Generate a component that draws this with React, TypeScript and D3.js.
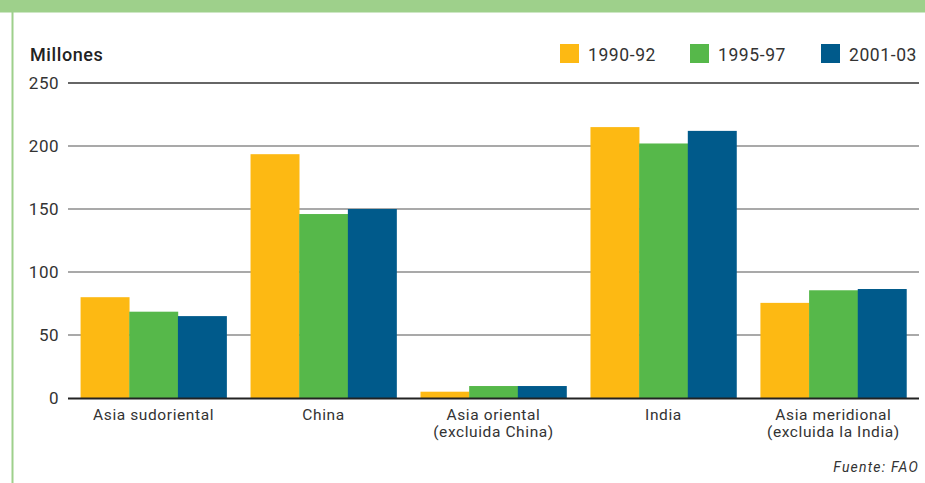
import { useEffect, useRef } from "react";
import * as d3 from "d3";

const regions = [
  ["Asia sudoriental"],
  ["China"],
  ["Asia oriental", "(excluida China)"],
  ["India"],
  ["Asia meridional", "(excluida la India)"],
];
const periods = ["1990-92", "1995-97", "2001-03"];
const s1990 = [80, 193.5, 5, 215, 75.5];
const s1995 = [68.5, 146, 9.5, 202, 85.5];
const s2001 = [65, 150, 9.5, 212, 86.5];
const colors = ["#FDB913", "#56B84A", "#005A8B"];
const yTicks = [0, 50, 100, 150, 200, 250];

export default function App() {
  const svgRef = useRef<SVGSVGElement>(null);

  useEffect(() => {
    if (!svgRef.current) return;
    const width = 925;
    const height = 483;
    const font = "Roboto, 'DejaVu Sans', sans-serif";
    const textColor = "#333";

    const svg = d3.select(svgRef.current);
    svg.selectAll("*").remove();
    svg.attr("width", width).attr("height", height);

    // frame
    svg.append("rect").attr("x", 0).attr("y", 0).attr("width", width).attr("height", height).attr("fill", "#fff");
    svg.append("rect").attr("x", 0).attr("y", 0).attr("width", width).attr("height", 12.5).attr("fill", "#9ED08B");
    svg.append("rect").attr("x", 11.5).attr("y", 0).attr("width", 2).attr("height", height).attr("fill", "#9ED08B");

    const x0 = d3
      .scaleBand<number>()
      .domain(d3.range(regions.length))
      .range([68, 919])
      .paddingInner(0.141)
      .paddingOuter(0.074);

    const x1 = d3.scaleBand<number>().domain(d3.range(periods.length)).range([0, x0.bandwidth()]);

    const y = d3.scaleLinear().domain([0, 250]).range([398, 83]);

    // grid
    yTicks.forEach((t) => {
      if (t === 0) return;
      svg
        .append("line")
        .attr("x1", 68)
        .attr("x2", 919)
        .attr("y1", y(t))
        .attr("y2", y(t))
        .attr("stroke", t === 250 ? "#333" : "#8c8c8c")
        .attr("stroke-width", t === 250 ? 1.3 : 1.6);
    });

    // tick labels
    svg
      .append("g")
      .selectAll("text")
      .data(yTicks)
      .join("text")
      .attr("x", 59)
      .attr("y", (d) => y(d) + 6)
      .attr("text-anchor", "end")
      .attr("font-family", font)
      .attr("font-size", 17)
      .attr("letter-spacing", 0.5)
      .attr("fill", textColor)
      .text((d) => d);

    const series = [s1990, s1995, s2001];

    // bars
    series.forEach((vals, si) => {
      svg
        .append("g")
        .selectAll("rect")
        .data(vals)
        .join("rect")
        .attr("x", (_, i) => x0(i)! + x1(si)!)
        .attr("y", (d) => y(d))
        .attr("width", x1.bandwidth() + 0.3)
        .attr("height", (d) => y(0) - y(d))
        .attr("fill", colors[si]);
    });

    // baseline
    svg
      .append("line")
      .attr("x1", 68)
      .attr("x2", 919)
      .attr("y1", y(0) + 0.5)
      .attr("y2", y(0) + 0.5)
      .attr("stroke", "#222")
      .attr("stroke-width", 2.2);

    // category labels
    const cats = svg
      .append("g")
      .selectAll("text")
      .data(regions)
      .join("text")
      .attr("x", (_, i) => x0(i)! + x0.bandwidth() / 2)
      .attr("y", 420)
      .attr("text-anchor", "middle")
      .attr("font-family", font)
      .attr("font-size", 15.5)
      .attr("letter-spacing", 0.6)
      .attr("fill", textColor);
    cats
      .selectAll("tspan")
      .data((d) => d)
      .join("tspan")
      .attr("x", function () {
        return (this.parentNode as SVGTextElement).getAttribute("x");
      })
      .attr("dy", (_, i) => (i === 0 ? 0 : 17))
      .text((d) => d);

    // title
    svg
      .append("text")
      .attr("x", 30)
      .attr("y", 61)
      .attr("font-family", font)
      .attr("font-weight", 500)
      .attr("font-size", 18)
      .attr("letter-spacing", 0.6)
      .attr("fill", "#222")
      .text("Millones");

    // legend
    const legendX = [560, 690, 821];
    periods.forEach((p, i) => {
      svg
        .append("rect")
        .attr("x", legendX[i])
        .attr("y", 44)
        .attr("width", 19)
        .attr("height", 19)
        .attr("fill", colors[i]);
      svg
        .append("text")
        .attr("x", legendX[i] + 28)
        .attr("y", 61)
        .attr("font-family", font)
        .attr("font-size", 17.5)
        .attr("letter-spacing", 0.6)
        .attr("fill", textColor)
        .text(p);
    });

    // source
    svg
      .append("text")
      .attr("x", 919)
      .attr("y", 472)
      .attr("text-anchor", "end")
      .attr("font-family", font)
      .attr("font-style", "italic")
      .attr("font-size", 14)
      .attr("letter-spacing", 1.2)
      .attr("fill", textColor)
      .text("Fuente: FAO");
  }, []);

  return (
    <div style={{ position: "absolute", left: 0, top: 0 }}>
      <svg ref={svgRef} style={{ display: "block" }} />
    </div>
  );
}
